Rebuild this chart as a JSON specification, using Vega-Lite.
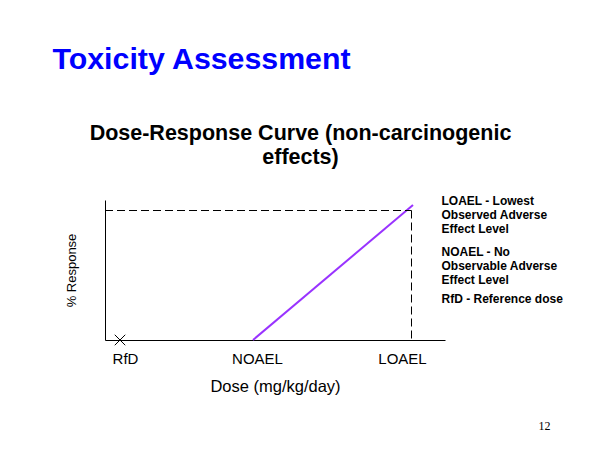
{
  "$schema": "https://vega.github.io/schema/vega-lite/v6.json",
  "width": 340,
  "height": 140,
  "autosize": {"type": "none"},
  "padding": {"left": 105, "top": 200, "right": 155, "bottom": 110},
  "background": "white",
  "config": {
    "view": {"stroke": null},
    "font": "Liberation Sans",
    "axis": {
      "grid": false,
      "ticks": false,
      "tickSize": 0,
      "domainColor": "black",
      "domainWidth": 1,
      "labelColor": "black",
      "titleColor": "black",
      "labelFont": "Liberation Sans",
      "titleFont": "Liberation Sans",
      "labelLimit": 0
    }
  },
  "datasets": {
    "curve": [
      {"dose": 148, "response": 0},
      {"dose": 308, "response": 135}
    ],
    "guides": [
      {"dose": 0, "dose2": 306.5, "response": 129.5, "response2": 129.5},
      {"dose": 306.5, "dose2": 306.5, "response": 129.5, "response2": 0}
    ],
    "rfd": [
      {"dose": 15, "response": 0}
    ]
  },
  "layer": [
    {
      "data": {"name": "curve"},
      "mark": {"type": "line", "color": "#9933ff", "strokeWidth": 2},
      "encoding": {
        "x": {
          "field": "dose",
          "type": "quantitative",
          "scale": {"domain": [0, 340], "nice": false, "zero": false},
          "axis": {
            "orient": "bottom",
            "values": [20, 152, 297],
            "labelExpr": "datum.value == 20 ? 'RfD' : datum.value == 152 ? 'NOAEL' : 'LOAEL'",
            "labelFontSize": 15,
            "labelPadding": 11,
            "labelOverlap": false,
            "labelFlush": false,
            "title": "Dose (mg/kg/day)",
            "titleFontSize": 16.5,
            "titleFontWeight": "normal",
            "titleY": 51,
            "titleBaseline": "alphabetic"
          }
        },
        "y": {
          "field": "response",
          "type": "quantitative",
          "scale": {"domain": [0, 140], "nice": false, "zero": false},
          "axis": {
            "orient": "left",
            "labels": false,
            "title": "% Response",
            "titleFontSize": 13,
            "titleFontWeight": "normal",
            "titleX": -30,
            "titleY": 70,
            "titleAngle": 270,
            "titleAlign": "center",
            "titleBaseline": "alphabetic"
          }
        }
      }
    },
    {
      "data": {"name": "guides"},
      "mark": {"type": "rule", "color": "black", "strokeWidth": 1, "strokeDash": [8, 4]},
      "encoding": {
        "x": {
          "field": "dose",
          "type": "quantitative",
          "scale": {"domain": [0, 340], "nice": false, "zero": false},
          "axis": {
            "orient": "top",
            "domain": false,
            "values": [195],
            "labelExpr": "['Dose-Response Curve (non-carcinogenic', 'effects)']",
            "labelFontSize": 21.5,
            "labelFontWeight": "bold",
            "labelLineHeight": 24,
            "labelBaseline": "top",
            "labelAlign": "center",
            "labelPadding": 78,
            "labelOverlap": false,
            "labelFlush": false,
            "labelLimit": 0,
            "title": "Toxicity Assessment",
            "titleX": -53,
            "titleY": -132,
            "titleAngle": 0,
            "titleAlign": "left",
            "titleBaseline": "alphabetic",
            "titleFontSize": 30.3,
            "titleFontWeight": "bold",
            "titleColor": "#0000ff",
            "titleLimit": 0
          }
        },
        "x2": {"field": "dose2"},
        "y": {
          "field": "response",
          "type": "quantitative",
          "scale": {"domain": [0, 140], "nice": false, "zero": false},
          "axis": {
            "orient": "right",
            "domain": false,
            "values": [140, 89, 42],
            "labelExpr": "datum.value == 140 ? ['LOAEL - Lowest', 'Observed Adverse', 'Effect Level'] : datum.value == 89 ? ['NOAEL - No', 'Observable Adverse', 'Effect Level'] : ['RfD - Reference dose']",
            "labelFontSize": 12,
            "labelFontWeight": "bold",
            "labelLineHeight": 14,
            "labelBaseline": "top",
            "labelAlign": "left",
            "labelPadding": -4,
            "labelOffset": -5,
            "labelOverlap": false,
            "labelFlush": false,
            "labelBound": false,
            "labelLimit": 0,
            "title": "12",
            "titleFont": "Liberation Serif",
            "titleFontSize": 12,
            "titleFontWeight": "normal",
            "titleAngle": 0,
            "titleX": 99,
            "titleY": 229.5,
            "titleAlign": "center",
            "titleBaseline": "alphabetic"
          }
        },
        "y2": {"field": "response2"}
      }
    },
    {
      "data": {"name": "rfd"},
      "mark": {
        "type": "point",
        "shape": "M-1,-1L1,1M-1,1L1,-1",
        "filled": false,
        "stroke": "black",
        "strokeWidth": 1,
        "size": 110,
        "opacity": 1
      },
      "encoding": {
        "x": {"field": "dose", "type": "quantitative", "scale": {"domain": [0, 340], "nice": false, "zero": false}, "axis": null},
        "y": {"field": "response", "type": "quantitative", "scale": {"domain": [0, 140], "nice": false, "zero": false}, "axis": null}
      }
    }
  ],
  "resolve": {"axis": {"x": "independent", "y": "independent"}}
}
